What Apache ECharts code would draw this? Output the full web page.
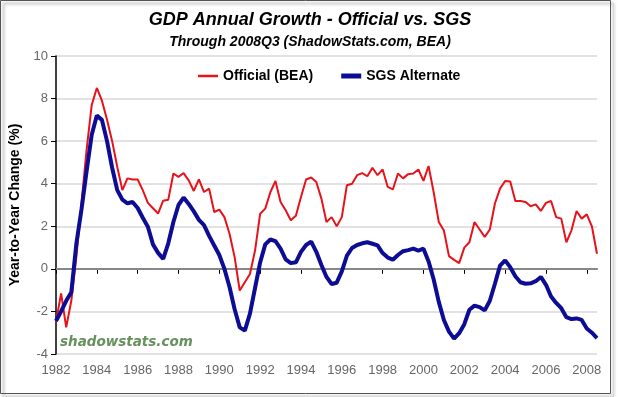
<!DOCTYPE html>
<html>
<head>
<meta charset="utf-8">
<script src="https://cdn.jsdelivr.net/npm/echarts@6/dist/echarts.min.js"></script>
<style>
  html, body { margin: 0; padding: 0; background: #fff; }
  #chart { width: 620px; height: 397px; }
</style>
</head>
<body>
<div id="chart"></div>
<script>
  // quarterly, 1982Q1 .. 2008Q3
  const startYear = 1982
  const official = [
    -2.5, -1.15, -2.75, -1.5, 0.6, 3.1, 5.6, 7.7, 8.5, 7.9,
    7.0, 6.0, 4.8, 3.7, 4.25, 4.2, 4.2, 3.7, 3.1, 2.85,
    2.6, 3.2, 3.25, 4.48, 4.32, 4.5, 4.16, 3.66, 4.2, 3.61,
    3.77, 2.67, 2.78, 2.43, 1.65, 0.55, -1.02, -0.63, -0.24, 0.86,
    2.59, 2.83, 3.6, 4.13, 3.14, 2.75, 2.28, 2.5, 3.38, 4.2,
    4.29, 4.08, 3.3, 2.2, 2.43, 2.0, 2.43, 3.93, 4.0, 4.4,
    4.5, 4.35, 4.75, 4.4, 4.67, 3.85, 3.73, 4.48, 4.25, 4.45,
    4.48, 4.67, 4.13, 4.83, 3.6, 2.2, 1.8, 0.6, 0.42, 0.27,
    1.0, 1.25, 2.2, 1.85, 1.5, 1.85, 3.07, 3.77, 4.13, 4.1,
    3.19, 3.19, 3.14, 2.94, 3.03, 2.72, 3.1, 3.19, 2.43, 2.36,
    1.25, 1.81, 2.72, 2.36, 2.56, 2.0, 0.71
  ]
  const sgs = [
    -2.45, -2.0, -1.5, -1.1, 1.2, 2.8, 4.6, 6.3, 7.2, 7.0,
    6.0, 4.75, 3.7, 3.25, 3.08, 3.14, 2.86, 2.4, 1.98, 1.15,
    0.75, 0.47, 1.2, 2.2, 3.0, 3.35, 3.05, 2.7, 2.3, 2.05,
    1.55, 1.1, 0.65, 0.0, -0.85, -1.9, -2.75, -2.9, -2.1, -0.9,
    0.3, 1.15, 1.38, 1.3, 0.95, 0.45, 0.27, 0.31, 0.8, 1.12,
    1.28, 0.8, 0.18, -0.38, -0.71, -0.65, -0.12, 0.62, 0.98, 1.12,
    1.2, 1.25, 1.18, 1.1, 0.74, 0.53, 0.43, 0.65, 0.83, 0.88,
    0.95, 0.86, 0.95, 0.35, -0.5, -1.55, -2.4, -2.95, -3.28, -3.02,
    -2.6, -1.92, -1.73, -1.8, -1.95, -1.5, -0.7, 0.15, 0.4, 0.08,
    -0.35, -0.63, -0.7, -0.68, -0.58, -0.38, -0.75, -1.3, -1.6, -1.85,
    -2.27, -2.36, -2.33, -2.4, -2.8, -3.0, -3.25
  ]
  const yearTicks = [1982, 1984, 1986, 1988, 1990, 1992, 1994, 1996, 1998, 2000, 2002, 2004, 2006, 2008]
  const seriesNames = ['Official (BEA)', 'SGS Alternate']
  const colors = ['#e8121b', '#0c0c94']

  const toPoints = (arr) => arr.map((v, i) => [startYear + i * 0.25, v])

  const font = '"Liberation Sans", Arial, sans-serif'
  const chart = echarts.init(document.getElementById('chart'))
  chart.setOption({
    animation: false,
    backgroundColor: '#fff',
    textStyle: { fontFamily: font },
    title: [
      {
        text: 'GDP Annual Growth - Official vs. SGS',
        left: 'center',
        top: 6,
        textStyle: { fontSize: 18, fontWeight: 'bold', fontStyle: 'italic', color: '#000', fontFamily: font },
      },
      {
        text: 'Through 2008Q3 (ShadowStats.com, BEA)',
        left: 'center',
        top: 30,
        textStyle: { fontSize: 14, fontWeight: 'bold', fontStyle: 'italic', color: '#000', fontFamily: font },
      },
    ],
    legend: {
      data: [
        { name: seriesNames[0], icon: 'path://M0,0h20v2.5h-20z' },
        { name: seriesNames[1], icon: 'path://M0,0h20v5h-20z' },
      ],
      left: 193,
      top: 64,
      itemWidth: 20,
      itemHeight: 14,
      itemGap: 28,
      textStyle: { fontSize: 14, fontWeight: 'bold', color: '#000', fontFamily: font },
    },
    grid: { left: 56, right: 23, top: 56, bottom: 43, outerBoundsMode: 'none' },
    xAxis: {
      type: 'value',
      min: startYear,
      max: 2008.5,
      interval: 2,
      axisLine: { lineStyle: { color: '#000', width: 1.5 } },
      axisTick: { show: true, length: 5, lineStyle: { color: '#000' }, customValues: yearTicks },
      axisLabel: { fontSize: 13, color: '#666', margin: 10, customValues: yearTicks, formatter: (v) => String(v) },
      splitLine: { show: false },
    },
    yAxis: {
      type: 'value',
      min: -4,
      max: 10,
      interval: 2,
      name: 'Year-to-Year Change (%)',
      nameLocation: 'middle',
      nameGap: 30,
      nameTextStyle: { fontSize: 14, fontWeight: 'bold', color: '#000', fontFamily: font },
      axisLine: { show: true, lineStyle: { color: '#000', width: 1.5 } },
      axisTick: { show: true, length: 5, lineStyle: { color: '#000' } },
      axisLabel: { fontSize: 13, color: '#666', margin: 8 },
      splitLine: { show: true, lineStyle: { color: '#e2e2e2', width: 2 } },
    },
    graphic: [
      {
        type: 'text',
        left: 60,
        top: 335,
        style: {
          text: 'shadowstats.com',
          font: 'italic bold 13.5px "DejaVu Sans", Verdana, sans-serif',
          fill: '#66905d',
        },
      },
      {
        type: 'rect',
        shape: { x: 0.5, y: 0.5, width: 610, height: 393 },
        style: {
          fill: 'none',
          stroke: '#555',
          lineWidth: 1,
          shadowColor: 'rgba(0,0,0,0.45)',
          shadowBlur: 3,
          shadowOffsetX: 3,
          shadowOffsetY: 3,
        },
        silent: true,
        z: -1,
      },
    ],
    series: [
      {
        name: seriesNames[0],
        type: 'line',
        data: toPoints(official),
        showSymbol: false,
        symbol: 'none',
        z: 3,
        lineStyle: { color: colors[0], width: 2 },
        itemStyle: { color: colors[0] },
        markLine: {
          silent: true,
          symbol: 'none',
          z: 1,
          label: { show: false },
          lineStyle: { color: '#888', width: 2, type: 'solid' },
          data: [{ yAxis: 0 }],
        },
      },
      {
        name: seriesNames[1],
        type: 'line',
        data: toPoints(sgs),
        showSymbol: false,
        symbol: 'none',
        z: 4,
        lineStyle: { color: colors[1], width: 4 },
        itemStyle: { color: colors[1] },
      },
    ],
  })
</script>
</body>
</html>
